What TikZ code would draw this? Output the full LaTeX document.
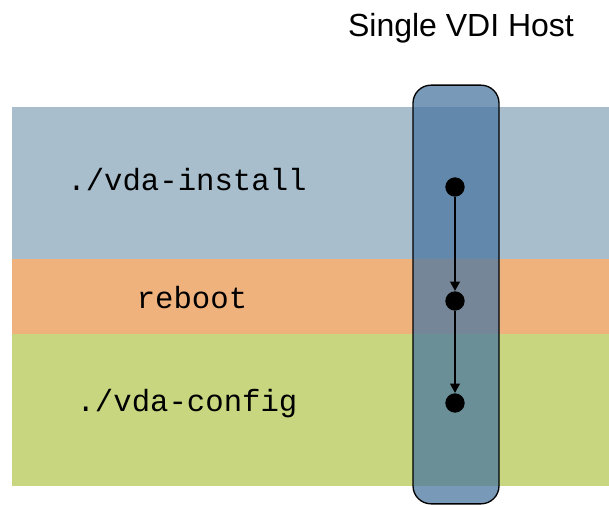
\documentclass[tikz,border=0pt]{standalone}
\usepackage{fontspec}
\usepackage{xcolor}
\usetikzlibrary{arrows.meta}
\setmainfont{Liberation Sans}
\setmonofont{Liberation Mono}
\definecolor{installblue}{RGB}{168,190,204}
\definecolor{rebootorange}{RGB}{240,178,125}
\definecolor{configgreen}{RGB}{200,214,128}
\definecolor{hostblue}{RGB}{75,120,160}

\begin{document}
\begin{tikzpicture}[x=0.75pt, y=-0.75pt,
        steptext/.style={font=\ttfamily\fontsize{23}{27}\selectfont, inner sep=0pt, anchor=base},
        stepdot/.style={circle, fill=black, inner sep=0pt, minimum size=14.5pt},
        flow/.style={line width=2pt, -{Triangle[length=7pt, width=7pt]}}]
        	\useasboundingbox (0, 0) rectangle (609, 505);
        	% Bands:
        	\fill[installblue] (12, 107) rectangle (609, 259);
        	\fill[rebootorange] (12, 259) rectangle (609, 334);
        	\fill[configgreen] (12, 334) rectangle (609, 486);
        	% Host column and title:
        	\node[draw=black, line width=1pt, fill=hostblue, fill opacity=0.75, rounded corners=13.5pt, minimum width=64.5pt, minimum height=314pt, inner sep=0pt](host) at (456, 294.5){};
        	\node[font=\fontsize{24}{28}\selectfont, inner sep=0pt, anchor=base](title) at (461, 37){Single VDI Host};
        	% Steps:
        	\node[steptext](install) at (187, 191){./vda-install};
        	\node[steptext](reboot) at (192, 309){reboot};
        	\node[steptext](config) at (187, 411){./vda-config};
        	\node[stepdot](D1) at (455, 187){};
        	\node[stepdot](D2) at (455, 301){};
        	\node[stepdot](D3) at (455, 403){};
        	\draw[flow] (D1) -- (D2);
        	\draw[flow] (D2) -- (D3);
        \end{tikzpicture}
\end{document}
